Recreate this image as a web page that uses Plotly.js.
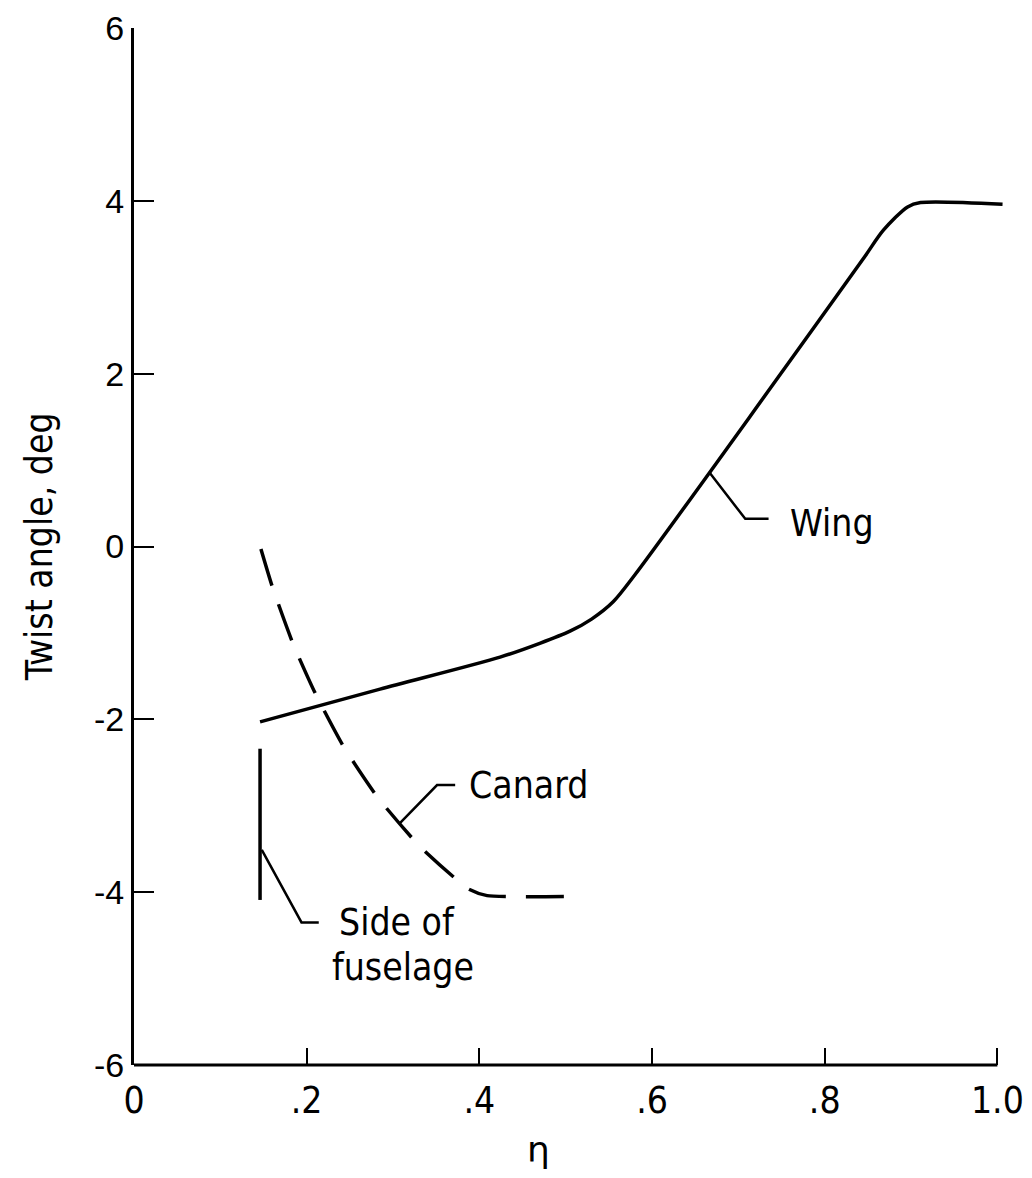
<!DOCTYPE html>
<html>
<head>
<meta charset="utf-8">
<script src="https://cdn.plot.ly/plotly-3.0.1.min.js"></script>
<style>html,body{margin:0;padding:0;background:#fff;}#chart{width:1032px;height:1178px;}</style>
</head>
<body>
<div id="chart"></div>
<script>
// Wing twist distribution
const wingEta   = [0.146, 0.285, 0.424, 0.470, 0.505, 0.530, 0.555, 0.580, 0.844, 0.868, 0.896, 0.911, 1.006];
const wingTwist = [-2.03, -1.65, -1.28, -1.12, -0.98, -0.84, -0.64, -0.33, 3.32, 3.66, 3.93, 3.98, 3.96];
// Canard twist distribution
const canardEta   = [0.147, 0.160, 0.184, 0.210, 0.243, 0.282, 0.331, 0.387, 0.409, 0.504];
const canardTwist = [-0.03, -0.46, -1.12, -1.70, -2.32, -2.90, -3.47, -3.96, -4.04, -4.05];
// Side of fuselage marker
const fuselageEta   = [0.146, 0.146];
const fuselageTwist = [-2.34, -4.09];
// Tick labels
const xTickVals = [0, 0.2, 0.4, 0.6, 0.8, 1.0];
const xTickText = ["0", ".2", ".4", ".6", ".8", "1.0"];
const yTickVals = [6, 4, 2, 0, -2, -4, -6];
const yTickText = ["6", "4", "2", "0", "-2", "-4", "-6"];

const narrow = 'Liberation Sans Narrow, DejaVu Sans Condensed, sans-serif';
const black = '#000';

const traces = [
  {x: wingEta, y: wingTwist, mode: 'lines', name: 'Wing',
   line: {color: black, width: 3.5, shape: 'spline', smoothing: 0.8}},
  {x: canardEta, y: canardTwist, mode: 'lines', name: 'Canard',
   line: {color: black, width: 3.5, dash: '38px,20px', shape: 'spline', smoothing: 0.5}},
  {x: fuselageEta, y: fuselageTwist, mode: 'lines', name: 'Side of fuselage',
   line: {color: black, width: 3.5}}
];

const leader = (pts) => ({
  type: 'path', xref: 'x', yref: 'y',
  path: 'M' + pts.map(p => p[0] + ',' + p[1]).join(' L'),
  line: {color: black, width: 2.5}
});

const layout = {
  width: 1032, height: 1178,
  margin: {l: 134, r: 26, t: 28, b: 113},
  paper_bgcolor: '#fff', plot_bgcolor: '#fff',
  showlegend: false,
  xaxis: {
    range: [0, 1.01], tickvals: xTickVals, ticktext: xTickText,
    ticks: 'inside', ticklen: 17, tickwidth: 2, tickcolor: black,
    showline: false, showgrid: false, zeroline: false,
    ticklabelstandoff: 10,
    tickfont: {family: narrow, size: 37, color: black}
  },
  yaxis: {
    range: [-6, 6], tickvals: yTickVals, ticktext: yTickText,
    ticks: 'inside', ticklen: 20, tickwidth: 2, tickcolor: black,
    showline: true, linewidth: 3, linecolor: black,
    showgrid: false, zeroline: false,
    ticklabelstandoff: 0,
    tickfont: {family: 'Liberation Sans, Arial, sans-serif', size: 34, color: black}
  },
  shapes: [
    {type: 'line', xref: 'x', yref: 'paper', x0: 0, x1: 1.0, y0: 0, y1: 0,
     line: {color: black, width: 3}},
    leader([[0.667, 0.85], [0.708, 0.32], [0.735, 0.32]]),
    leader([[0.308, -3.20], [0.351, -2.76], [0.372, -2.76]]),
    leader([[0.148, -3.51], [0.194, -4.35], [0.214, -4.35]])
  ],
  annotations: [
    {x: 0.757, y: 0.27, xref: 'x', yref: 'y', text: 'Wing', showarrow: false,
     xanchor: 'left', yanchor: 'middle', font: {family: narrow, size: 37, color: black}},
    {x: 0.386, y: -2.76, xref: 'x', yref: 'y', text: 'Canard', showarrow: false,
     xanchor: 'left', yanchor: 'middle', font: {family: narrow, size: 37, color: black}},
    {x: 0.235, y: -4.35, xref: 'x', yref: 'y', text: 'Side of', showarrow: false,
     xanchor: 'left', yanchor: 'middle', font: {family: narrow, size: 37, color: black}},
    {x: 0.227, y: -4.87, xref: 'x', yref: 'y', text: 'fuselage', showarrow: false,
     xanchor: 'left', yanchor: 'middle', font: {family: narrow, size: 37, color: black}},
    {x: 0.468, y: -6, xref: 'x', yref: 'y', yshift: -84, text: 'η', showarrow: false,
     xanchor: 'center', yanchor: 'middle', font: {family: 'DejaVu Sans, sans-serif', size: 36, color: black}},
    {x: -0.108, y: 0.5, xref: 'paper', yref: 'paper', text: 'Twist angle, deg', showarrow: false,
     textangle: -90, xanchor: 'center', yanchor: 'middle',
     font: {family: narrow, size: 37, color: black}}
  ]
};

Plotly.newPlot('chart', traces, layout, {displayModeBar: false, staticPlot: true});
</script>
</body>
</html>
